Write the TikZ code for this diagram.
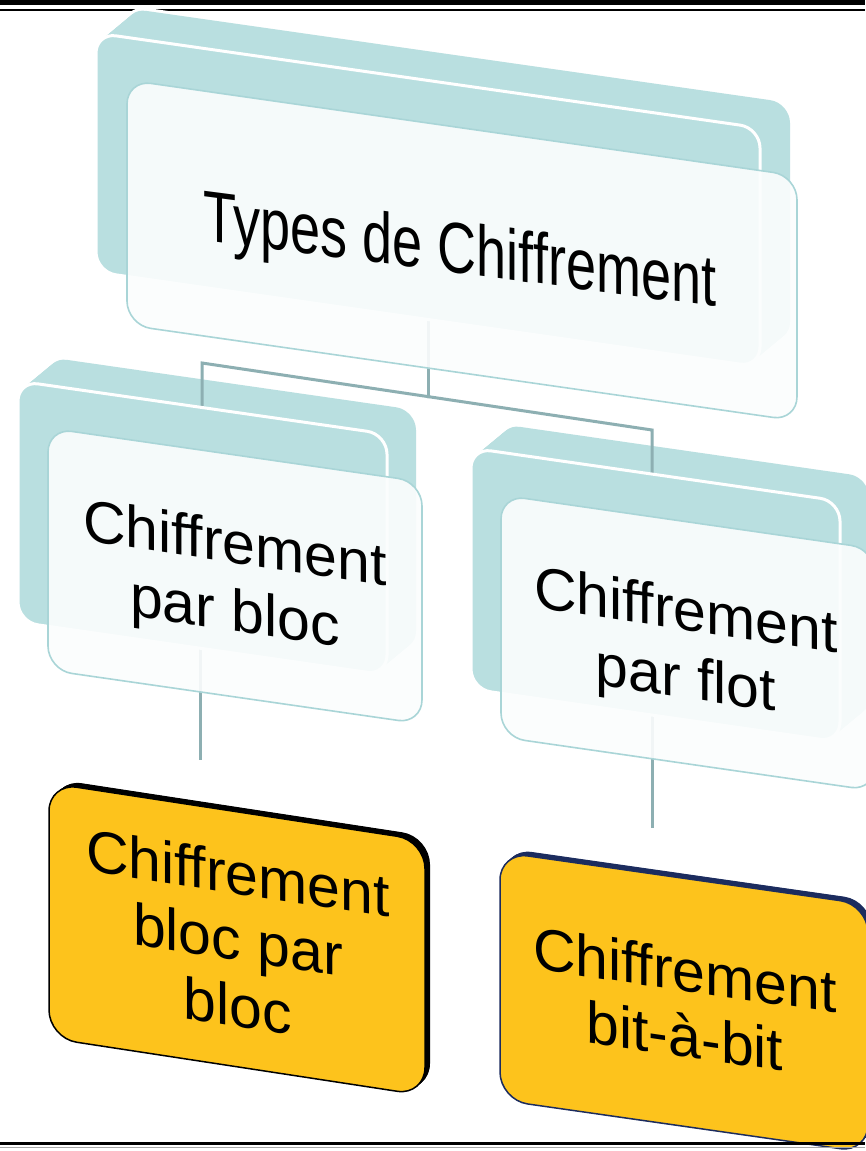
\documentclass[tikz,border=0pt]{standalone}
\usepackage{fontspec}
\setmainfont{Liberation Sans}
\definecolor{tealfill}{HTML}{B9DFE0}
\definecolor{cardfill}{HTML}{FBFDFD}
\definecolor{cardline}{HTML}{A9D5D7}
\definecolor{linkline}{HTML}{8DAFB2}
\definecolor{goldfill}{HTML}{FDC31C}
\definecolor{navyedge}{HTML}{1C2C5E}
% skewed box: x, y (top-left), width, left height, slope of top/bottom edges
\newcommand\pgram[5]{(#1,#2) -- ++(#3,{(#3)*(#5)}) -- ++(0,#4) -- ++({-(#3)},{-(#3)*(#5)}) -- cycle}
\begin{document}
\begin{tikzpicture}[x=1pt,y=-1pt,
  face/.style={fill=tealfill,draw=white,line width=3pt,rounded corners=20pt},
  solid/.style={fill=tealfill,rounded corners=20pt},
  card/.style={fill=cardfill,fill opacity=0.91,draw=cardline,line width=1.6pt,rounded corners=24pt},
  link/.style={draw=linkline,line width=3pt},
  gold/.style={fill=goldfill,line width=1.5pt,rounded corners=28pt},
  label/.style={transform shape,inner sep=0pt,align=center,anchor=base},
]
\useasboundingbox (0,0) rectangle (865,1151);
\fill[white] (0,0) rectangle (865,1151);

% frame lines at the top
\draw[line width=5pt] (0,2.5) -- (865,2.5);
\draw[line width=1.2pt] (0,10) -- (865,10);

% extruded back parts of the two middle boxes
\foreach \t in {0,0.05,...,1.001} {
  \fill[solid] \pgram{18+29*\t}{381-24*\t}{369}{241}{0.144};
  \fill[solid] \pgram{471+29*\t}{448-24*\t}{369}{241}{0.144};
}

% connectors
\coordinate (n0-drop) at (428,300);
\coordinate (jn) at (428,396.6);
\coordinate (j1) at (202,363);
\coordinate (j2) at (652,430);
\coordinate (n1-in) at (202,420);
\coordinate (n2-in) at (652,490);
\coordinate (n1-out) at (200,600);
\coordinate (n3-stub) at (200,760);
\coordinate (n2-out) at (652,660);
\coordinate (n4-stub) at (652,828);
\draw[link] (n0-drop) -- (jn);
\draw[link,line cap=rect] (jn) -- (j1) -- (n1-in);
\draw[link,line cap=rect] (jn) -- (j2) -- (n2-in);
\draw[link] (n1-out) -- (n3-stub);
\draw[link] (n2-out) -- (n4-stub);

% middle boxes: front faces and glass cards
\path[face] \pgram{18}{381}{369}{241}{0.144};
\path[face] \pgram{471}{448}{369}{241}{0.144};
\path[card] \pgram{48}{428}{374}{242}{0.144};
\path[card] \pgram{501}{495}{374}{242}{0.144};

% top box
\draw[white,line width=6pt,rounded corners=20pt] \pgram{126}{8}{664}{239}{0.143};
\foreach \t in {0,0.05,...,1.001} {
  \fill[solid] \pgram{96+30*\t}{33-25*\t}{664}{239}{0.143};
}
\path[face] \pgram{96}{33}{664}{239}{0.143};
\path[card] \pgram{127}{80}{670}{245}{0.143};

% bottom boxes
\foreach \t in {0,0.1,...,1.001} {
  \fill[black,rounded corners=28pt] \pgram{49+5*\t}{783-4*\t}{376}{255}{0.153};
  \fill[navyedge,rounded corners=28pt] \pgram{500+4*\t}{852-4*\t}{368}{248}{0.143};
}
\path[gold,draw=black] \pgram{49}{783}{376}{255}{0.153};
\path[gold,draw=navyedge] \pgram{500}{852}{368}{248}{0.143};

% labels (anchored on the baseline of their last line)
\begin{scope}[shift={(460,273.5)},yslant=-0.13,yscale=1.33]
  \node[label,font=\fontsize{54}{60}\selectfont] (n0) at (0,0) {Types de Chiffrement};
\end{scope}
\begin{scope}[shift={(235,631)},yslant=-0.148]
  \node[label,font=\fontsize{59}{68}\selectfont] (n1) at (0,0) {Chiffrement\\par bloc};
\end{scope}
\begin{scope}[shift={(686,698)},yslant=-0.148]
  \node[label,font=\fontsize{59}{68}\selectfont] (n2) at (0,0) {Chiffrement\\par flot};
\end{scope}
\begin{scope}[shift={(238,1027)},yslant=-0.153]
  \node[label,font=\fontsize{59}{66.5}\selectfont] (n3) at (0,0) {Chiffrement\\bloc par\\bloc};
\end{scope}
\begin{scope}[shift={(685,1057)},yslant=-0.145]
  \node[label,font=\fontsize{59}{66}\selectfont] (n4) at (0,0) {Chiffrement\\bit-à-bit};
\end{scope}

% frame lines at the bottom
\draw[line width=3pt] (0,1143) -- (865,1143);
\draw[gray!70,line width=1pt] (0,1147.5) -- (865,1147.5);
\end{tikzpicture}
\end{document}
